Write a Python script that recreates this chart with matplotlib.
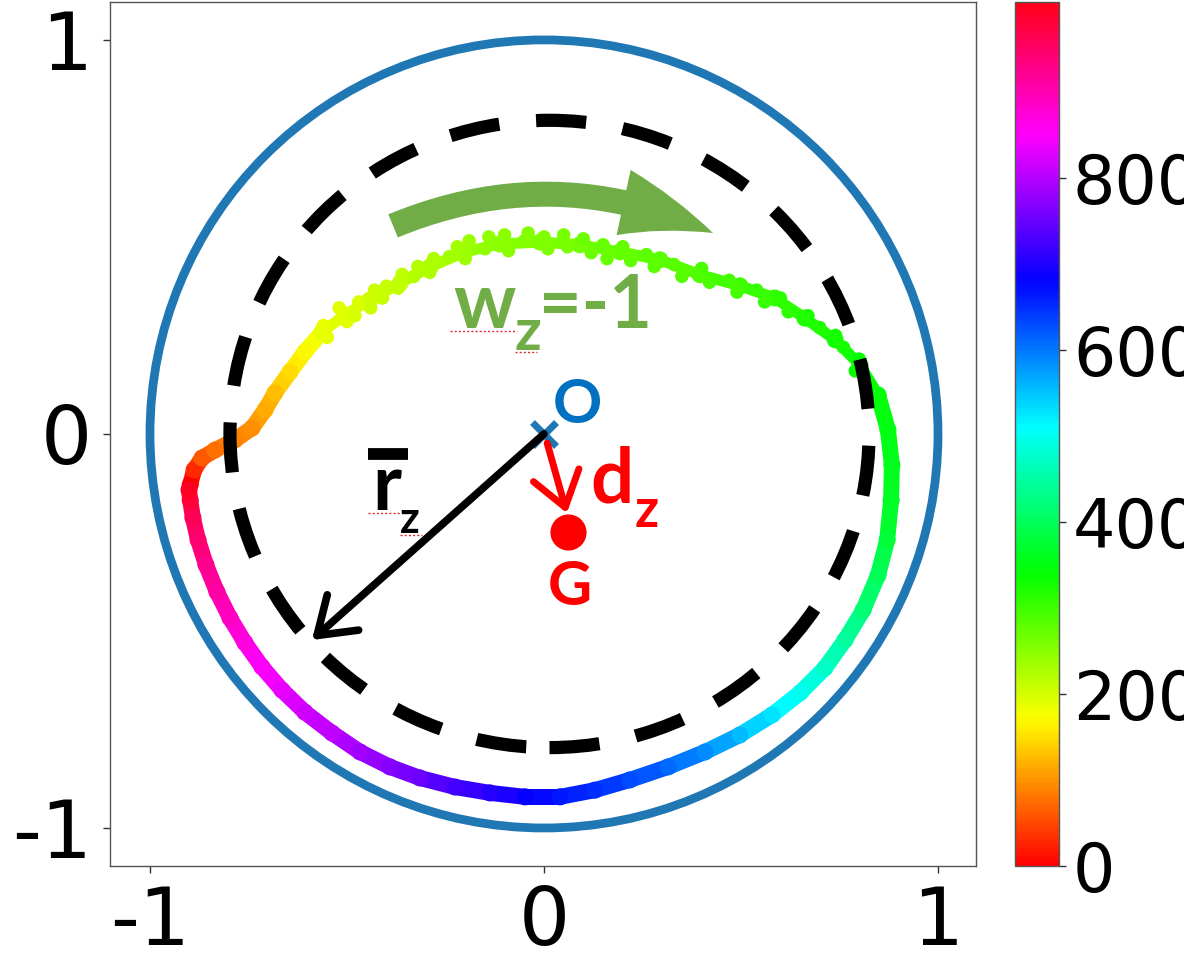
import numpy as np
import matplotlib
matplotlib.use('Agg')
import matplotlib.pyplot as plt
from matplotlib.collections import LineCollection
from matplotlib.patches import Circle, Ellipse, FancyArrowPatch
from matplotlib.colors import Normalize
from matplotlib.cm import ScalarMappable

plt.rcParams['axes.unicode_minus'] = False

# ---- data ----
frame = [0, 30, 60, 78, 88, 98, 115, 128, 148, 170, 185, 195, 205, 215, 225, 238,
         250, 258, 266, 274, 282, 290, 300, 310, 318, 326, 335, 342, 350, 358, 366,
         378, 400, 420, 444, 475, 500, 527, 555, 585, 610, 632, 650, 667, 685, 705,
         725, 750, 768, 787, 805, 818, 833, 850, 868, 890, 908, 925, 944, 960, 980, 995]
traj_x = [-0.898, -0.888, -0.868, -0.835, -0.784, -0.741, -0.708, -0.683, -0.645, -0.607,
          -0.563, -0.505, -0.442, -0.365, -0.289, -0.201, -0.112, -0.010, 0.091, 0.193,
          0.294, 0.396, 0.497, 0.586, 0.662, 0.739, 0.802, 0.848, 0.873, 0.883, 0.881,
          0.871, 0.848, 0.810, 0.764, 0.713, 0.650, 0.579, 0.497, 0.409, 0.315, 0.218,
          0.129, 0.041, -0.048, -0.137, -0.226, -0.315, -0.391, -0.467, -0.538, -0.607,
          -0.665, -0.716, -0.759, -0.797, -0.830, -0.858, -0.878, -0.891, -0.898, -0.901]
traj_y = [-0.129, -0.091, -0.061, -0.041, -0.015, 0.015, 0.061, 0.104, 0.157, 0.208,
          0.259, 0.302, 0.340, 0.383, 0.424, 0.462, 0.482, 0.487, 0.480, 0.462,
          0.442, 0.404, 0.376, 0.345, 0.294, 0.239, 0.175, 0.099, 0.010, -0.079, -0.168,
          -0.269, -0.358, -0.447, -0.523, -0.594, -0.657, -0.713, -0.764, -0.807, -0.845,
          -0.878, -0.904, -0.921, -0.921, -0.911, -0.896, -0.873, -0.845, -0.807, -0.759,
          -0.706, -0.650, -0.591, -0.530, -0.467, -0.401, -0.332, -0.269, -0.213, -0.168, -0.142]

# scattered samples along the noisy upper arc
scatter_frame = [185, 185, 190, 190, 198, 198, 205, 205, 210, 210, 215, 215, 220, 220,
                 226, 226, 232, 232, 238, 238, 244, 244, 250, 250, 255, 255, 259, 259,
                 263, 263, 267, 267, 271, 271, 275, 275, 280, 280, 285, 285, 292, 292,
                 298, 298, 305, 305, 312, 312, 320, 320, 328, 328, 336, 336]
scatter_x = [-0.56, -0.55, -0.52, -0.50, -0.47, -0.48, -0.43, -0.44, -0.40, -0.41, -0.36, -0.37,
             -0.33, -0.32, -0.28, -0.29, -0.24, -0.22, -0.19, -0.20, -0.15, -0.14, -0.10, -0.09,
             -0.05, -0.04, 0.00, 0.01, 0.05, 0.06, 0.10, 0.12, 0.15, 0.16, 0.20, 0.22,
             0.26, 0.28, 0.33, 0.35, 0.40, 0.42, 0.47, 0.49, 0.54, 0.56, 0.60, 0.62,
             0.67, 0.70, 0.74, 0.76, 0.80, 0.79]
scatter_y = [0.275, 0.245, 0.32, 0.285, 0.335, 0.30, 0.365, 0.32, 0.375, 0.345, 0.405, 0.37,
             0.40, 0.425, 0.445, 0.41, 0.45, 0.475, 0.49, 0.445, 0.47, 0.50, 0.505, 0.465,
             0.49, 0.51, 0.50, 0.47, 0.505, 0.475, 0.495, 0.46, 0.48, 0.445, 0.475, 0.44,
             0.455, 0.425, 0.43, 0.40, 0.42, 0.385, 0.39, 0.36, 0.365, 0.335, 0.345, 0.31,
             0.30, 0.27, 0.25, 0.22, 0.19, 0.16]

center_O = (0.0, 0.0)
point_G = (0.061, -0.249)
mean_radius_tip = (-0.589, -0.523)
dz_tip = (0.058, -0.201)
frame_min, frame_max = 0, 1005
cbar_ticks = [0, 200, 400, 600, 800]
axis_ticks = [-1, 0, 1]

# ---- figure ----
fig = plt.figure(figsize=(11.84, 9.64), dpi=100)
ax = fig.add_axes([0.0929, 0.1017, 0.7314, 0.8963])
cax = fig.add_axes([0.8573, 0.1017, 0.0372, 0.8963])

norm = Normalize(frame_min, frame_max)
cmap = plt.get_cmap('hsv')

fr = np.array(frame, dtype=float)
pts = np.column_stack([traj_x, traj_y])
segs = np.stack([pts[:-1], pts[1:]], axis=1)
mid = (fr[:-1] + fr[1:]) / 2
noisy = (mid > 180) & (mid < 340)
lws = np.where(noisy, 8.0, 11.5)
lc = LineCollection(segs, cmap=cmap, norm=norm, linewidths=lws, capstyle='round',
                    joinstyle='round', zorder=2)
lc.set_array(mid)
ax.add_collection(lc)
ax.scatter(traj_x, traj_y, c=frame, cmap=cmap, norm=norm, s=150, linewidths=0, zorder=2)
ax.scatter(scatter_x, scatter_y, c=scatter_frame, cmap=cmap, norm=norm, s=95,
           linewidths=0, zorder=2)

# unit circle
ax.add_patch(Circle((0, 0), 1.0, fill=False, color='#1f77b4', lw=6.3, zorder=1))
# dashed mean circle
ax.add_patch(Ellipse((0.014, 0.0), 1.622, 1.592, fill=False, color='black', lw=9.5,
                     linestyle=(0, (3.8, 2.8)), zorder=3))

# center marker
ax.plot([center_O[0]], [center_O[1]], marker='x', color='#1f77b4', ms=17, mew=5, zorder=4)

# black radius arrow
ax.annotate('', xy=mean_radius_tip, xytext=center_O,
            arrowprops=dict(arrowstyle='->,head_length=2.5,head_width=1.7', color='black',
                            lw=5.5, shrinkA=0, shrinkB=0, mutation_scale=10), zorder=5)
# red displacement arrow
ax.annotate('', xy=dz_tip, xytext=(0.008, -0.023),
            arrowprops=dict(arrowstyle='->,head_length=2.4,head_width=1.7', color='#ff0000',
                            lw=5.0, shrinkA=0, shrinkB=0, mutation_scale=10), zorder=5)
ax.plot([point_G[0]], [point_G[1]], marker='o', color='#ff0000', ms=26, mew=0, zorder=5)

# green rotation arrow
garrow = FancyArrowPatch((-0.383, 0.528), (0.429, 0.510),
                         connectionstyle='arc3,rad=-0.22',
                         arrowstyle='simple,head_length=6.8,head_width=4.8,tail_width=1.8',
                         mutation_scale=10, color='#70ad47', lw=0, shrinkA=0, shrinkB=0,
                         zorder=5)
ax.add_patch(garrow)

fam = ['Lato', 'DejaVu Sans']
ax.text(0.086, 0.074, 'O', color='#0070c0', fontsize=44, fontweight='bold', family=fam,
        ha='center', va='center', zorder=6)
ax.text(0.066, -0.434, 'G', color='#ff0000', fontsize=44, fontweight='bold', family=fam,
        ha='center', va='baseline', zorder=6)
ax.text(0.117, -0.175, 'd', color='#ff0000', fontsize=55, fontweight='bold', family=fam,
        ha='left', va='baseline', zorder=6)
ax.text(0.231, -0.236, 'z', color='#ff0000', fontsize=38, fontweight='bold', family=fam,
        ha='left', va='baseline', zorder=6)
ax.text(-0.231, 0.269, 'w', color='#70ad47', fontsize=56, fontweight='bold', family=fam,
        ha='left', va='baseline', zorder=6)
ax.text(-0.074, 0.213, 'z', color='#70ad47', fontsize=42, fontweight='bold', family=fam,
        ha='left', va='baseline', zorder=6)
ax.text(-0.012, 0.269, '=-1', color='#70ad47', fontsize=53, fontweight='bold', family=fam,
        ha='left', va='baseline', zorder=6)
ax.text(-0.437, -0.193, 'r', color='black', fontsize=56, fontweight='bold', family=fam,
        ha='left', va='baseline', zorder=6)
ax.text(-0.365, -0.251, 'z', color='black', fontsize=31, fontweight='bold', family=fam,
        ha='left', va='baseline', zorder=6)
ax.plot([-0.447, -0.345], [-0.051, -0.051], color='black', lw=8.5, solid_capstyle='butt', zorder=6)

# spell-check squiggles
for (x0, x1, y) in [(-0.239, -0.069, 0.261), (-0.074, -0.018, 0.208),
                    (-0.447, -0.365, -0.200), (-0.365, -0.310, -0.256)]:
    ax.plot([x0, x1], [y, y], color='#e03030', lw=1.0, ls=(0, (1.5, 1.5)), zorder=6)

ax.set_xlim(-1.1015, 1.0964)
ax.set_ylim(-1.0964, 1.0964)
ax.set_xticks(axis_ticks)
ax.set_yticks(axis_ticks)
ax.tick_params(labelsize=58, length=5, width=1, pad=8, colors='#333333', labelcolor='black')
for s in ax.spines.values():
    s.set_color('#555555')
    s.set_linewidth(1.0)

cb = fig.colorbar(ScalarMappable(norm=norm, cmap=cmap), cax=cax, ticks=cbar_ticks)
cax.tick_params(labelsize=48, length=5, width=1, pad=5, colors='#333333', labelcolor='black')
cb.outline.set_linewidth(1.0)
cb.outline.set_edgecolor('#555555')

fig.savefig('out.png', dpi=100, facecolor='white')
